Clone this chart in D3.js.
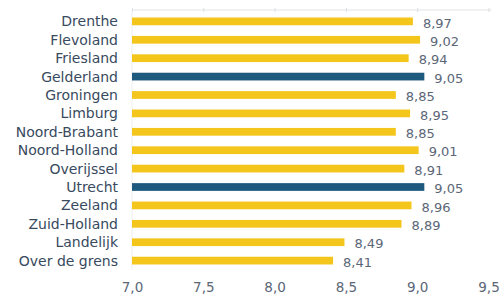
<!DOCTYPE html>
<html>
<head>
	<script src="https://cdn.jsdelivr.net/npm/d3@7"></script>
	<style>
		html, body { margin: 0; padding: 0; background: #fff; }
		text { font-family: "DejaVu Sans", Verdana, sans-serif; }
	</style>
</head>
<body>
	<div id="chart"></div>
	<script>
		var provinces = ["Drenthe", "Flevoland", "Friesland", "Gelderland", "Groningen", "Limburg",
			"Noord-Brabant", "Noord-Holland", "Overijssel", "Utrecht", "Zeeland", "Zuid-Holland",
			"Landelijk", "Over de grens"];
		var scores = [8.97, 9.02, 8.94, 9.05, 8.85, 8.95, 8.85, 9.01, 8.91, 9.05, 8.96, 8.89, 8.49, 8.41];
		var highlighted = ["Gelderland", "Utrecht"];
		var xTicks = [7.0, 7.5, 8.0, 8.5, 9.0, 9.5];

		var width = 502, height = 298;
		// note: "top" is reserved on window, so use plot* names
		var plotLeft = 132, plotRight = 488.5, plotTop = 12, plotBottom = 270;

		var svg = d3.select("#chart").append("svg")
			.attr("width", width)
			.attr("height", height);

		var x = d3.scaleLinear().domain([7, 9.5]).range([plotLeft, plotRight]);
		var y = d3.scaleBand().domain(provinces).range([plotTop, plotBottom]).paddingInner(0.58).paddingOuter(0.3);

		var comma = function(v) { return d3.format(".1f")(v).replace(".", ","); };

		// faint top axis with small ticks
		var topAxis = svg.append("g")
			.attr("transform", "translate(0,10)")
			.call(d3.axisTop(x).tickValues(xTicks).tickSize(2).tickFormat(""));
		topAxis.select(".domain").attr("stroke", "#e2e4e6").attr("d", "M" + plotLeft + ",0H" + (plotRight + 3));
		topAxis.selectAll(".tick line").attr("stroke", "#dcdfe2").attr("y1", 2).attr("y2", -2);

		// faint left line
		svg.append("line")
			.attr("x1", plotLeft).attr("x2", plotLeft)
			.attr("y1", 10).attr("y2", plotBottom)
			.attr("stroke", "#eceef0");

		// bars
		svg.selectAll("rect.bar")
			.data(provinces)
			.enter().append("rect")
			.attr("class", "bar")
			.attr("x", x(7))
			.attr("y", function(d) { return y(d); })
			.attr("height", y.bandwidth())
			.attr("width", function(d, i) { return x(scores[i]) - x(7); })
			.attr("fill", function(d) { return highlighted.indexOf(d) >= 0 ? "#1d5a7e" : "#f4c51a"; });

		// category labels
		svg.selectAll("text.cat")
			.data(provinces)
			.enter().append("text")
			.attr("class", "cat")
			.attr("x", 118)
			.attr("y", function(d) { return y(d) + y.bandwidth() / 2; })
			.attr("dy", "0.36em")
			.attr("text-anchor", "end")
			.attr("font-size", 14)
			.attr("fill", "#384a5e")
			.text(function(d) { return d; });

		// value labels
		svg.selectAll("text.val")
			.data(provinces)
			.enter().append("text")
			.attr("class", "val")
			.attr("x", function(d, i) { return x(scores[i]) + 10; })
			.attr("y", function(d) { return y(d) + y.bandwidth() / 2 + 1.5; })
			.attr("dy", "0.36em")
			.attr("font-size", 13)
			.attr("fill", "#5b6677")
			.text(function(d, i) { return d3.format(".2f")(scores[i]).replace(".", ","); });

		// bottom tick labels
		var bottomAxis = svg.append("g")
			.attr("transform", "translate(0,279)")
			.call(d3.axisBottom(x).tickValues(xTicks).tickSize(0).tickFormat(comma));
		bottomAxis.select(".domain").remove();
		bottomAxis.selectAll("text")
			.attr("font-size", 13.5)
			.attr("fill", "#5b6677")
			.style("font-family", "'DejaVu Sans', Verdana, sans-serif");
	</script>
</body>
</html>
